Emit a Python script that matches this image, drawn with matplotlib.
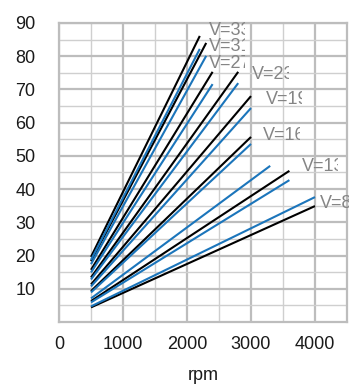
import matplotlib
matplotlib.use('Agg')
import matplotlib.pyplot as plt
from matplotlib.transforms import Bbox, TransformedBbox

plt.rcParams['font.family'] = ['Liberation Sans', 'DejaVu Sans']

# lines start at 500 rpm
rpm_start = 500

# black lines
black_end_rpm = [2200, 2300, 2400, 2800, 3000, 3000, 3600, 4000]
black_start = [19.6, 18.3, 15.7, 13.4, 11.3, 9.3, 6.3, 4.4]
black_end = [86.1, 84.0, 75.3, 75.3, 68.0, 55.7, 45.5, 34.9]

# blue lines
blue_end_rpm = [2200, 2300, 2400, 2800, 3000, 3000, 3300, 3600, 4000]
blue_start = [18.7, 17.4, 14.9, 12.8, 10.7, 8.9, 7.1, 5.9, 4.7]
blue_end = [82.2, 80.1, 71.6, 71.9, 64.4, 53.6, 47.0, 42.7, 37.6]

# curve labels
v_labels = ['V=33', 'V=31', 'V=27', 'V=23', 'V=19', 'V=16', 'V=13', 'V=8']
v_x = [2344, 2344, 2344, 3016, 3234, 3188, 3797, 4078]
v_y = [87.6, 82.9, 77.7, 74.4, 67.1, 56.0, 46.7, 35.8]

x_ticks = [0, 1000, 2000, 3000, 4000]
y_ticks = [10, 20, 30, 40, 50, 60, 70, 80, 90]

fig = plt.figure(figsize=(3.49, 3.85), dpi=100)
ax = fig.add_axes([59 / 349, 63 / 385, 288 / 349, 299 / 385])

# grid: minor every 500 / 5, major every 1000 / 10
ax.set_xticks(range(500, 4500, 1000), minor=True)
ax.set_yticks(range(5, 90, 10), minor=True)
ax.grid(which='major', color='#bdbdbd', linewidth=1.6)
ax.grid(which='minor', color='#cfcfcf', linewidth=1.0)
ax.set_axisbelow(True)
for s in ax.spines.values():
    s.set_color('#bdbdbd')
    s.set_linewidth(1.6)

for e, a, b in zip(black_end_rpm, black_start, black_end):
    ax.plot([rpm_start, e], [a, b], color='black', linewidth=1.5, solid_capstyle='butt')
for e, a, b in zip(blue_end_rpm, blue_start, blue_end):
    ax.plot([rpm_start, e], [a, b], color='#1b75bb', linewidth=1.5, solid_capstyle='butt')

# labels are cut off on the right, as in the source
for lab, x, y in zip(v_labels, v_x, v_y):
    t = ax.text(x, y, lab, fontsize=13, color='#858585', ha='left', va='center')
    t.set_clip_on(True)
    t.set_clip_box(TransformedBbox(Bbox([[x - 100, y - 8], [x + 570, y + 8]]), ax.transData))

ax.set_xlim(0, 4500)
ax.set_ylim(0, 90)
ax.set_xticks(x_ticks)
ax.set_yticks(y_ticks)
ax.tick_params(which='both', length=0)
ax.tick_params(axis='y', pad=17, labelsize=13, labelcolor='#1a1a1a')
ax.tick_params(axis='x', pad=10, labelsize=13, labelcolor='#1a1a1a')
ax.set_xlabel('rpm', fontsize=13, color='#1a1a1a', labelpad=10)

fig.savefig('out.png', dpi=100)
